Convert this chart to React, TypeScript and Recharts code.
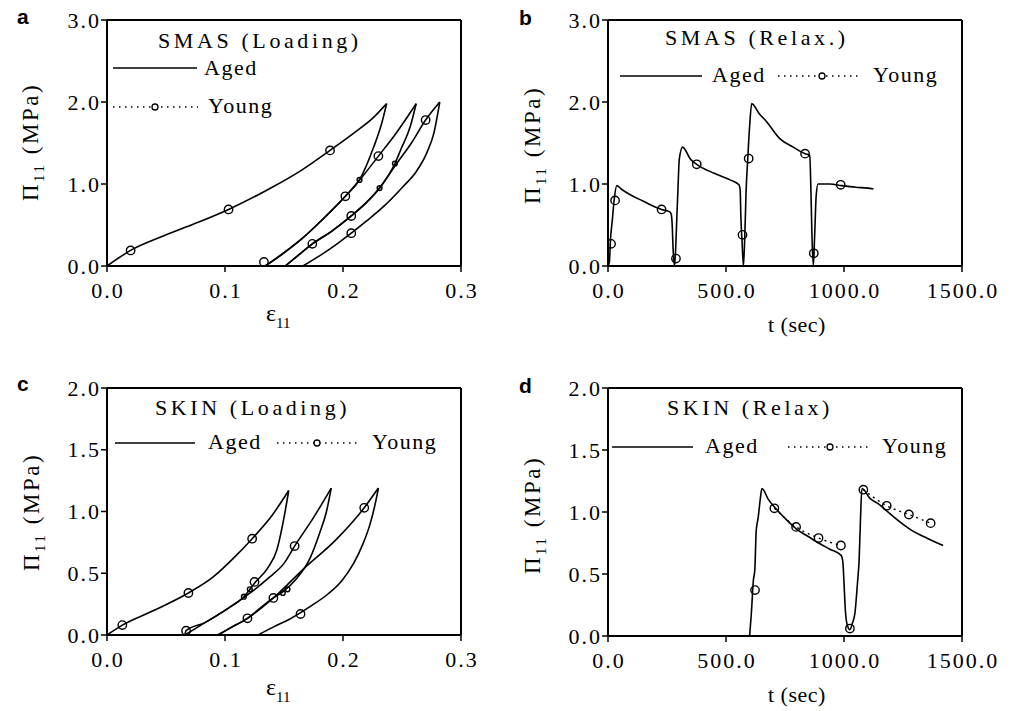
import React from 'react';
import { ComposedChart, Line, Scatter, XAxis, YAxis } from 'recharts';

type Pt = [number, number];

// ---- a: SMAS loading (strain, MPa) ----
const smasLoad1: Pt[] = [[0, 0], [0.02, 0.19], [0.045, 0.35], [0.075, 0.52], [0.103, 0.69], [0.14, 0.96], [0.165, 1.17], [0.189, 1.41], [0.21, 1.63], [0.225, 1.8], [0.237, 1.98]];
const smasUnload1: Pt[] = [[0.237, 1.98], [0.233, 1.75], [0.226, 1.45], [0.214, 1.05], [0.202, 0.85], [0.185, 0.6], [0.165, 0.33], [0.148, 0.14], [0.134, 0]];
const smasLoad2: Pt[] = [[0.134, 0], [0.148, 0.14], [0.165, 0.33], [0.185, 0.6], [0.202, 0.85], [0.217, 1.1], [0.23, 1.34], [0.245, 1.62], [0.262, 1.98]];
const smasUnload2: Pt[] = [[0.262, 1.98], [0.257, 1.7], [0.249, 1.42], [0.244, 1.25], [0.231, 0.95], [0.219, 0.76], [0.207, 0.61], [0.19, 0.42], [0.174, 0.27], [0.162, 0.13], [0.151, 0]];
const smasLoad3: Pt[] = [[0.151, 0], [0.162, 0.13], [0.174, 0.27], [0.19, 0.42], [0.207, 0.61], [0.231, 0.95], [0.244, 1.22], [0.258, 1.5], [0.27, 1.78], [0.282, 2.0]];
const smasUnload3: Pt[] = [[0.282, 2.0], [0.277, 1.62], [0.271, 1.38], [0.262, 1.15], [0.251, 0.97], [0.234, 0.72], [0.22, 0.55], [0.207, 0.4], [0.195, 0.27], [0.183, 0.15], [0.166, 0]];
const smasYoung: Pt[] = [[0.02, 0.19], [0.103, 0.69], [0.189, 1.41], [0.133, 0.05], [0.202, 0.85], [0.23, 1.34], [0.174, 0.27], [0.207, 0.61], [0.27, 1.78], [0.207, 0.4]];
const smasYoungSmall: Pt[] = [[0.214, 1.05], [0.244, 1.25], [0.231, 0.95]];

// ---- b: SMAS relaxation (sec, MPa) ----
const smasRelaxAged: Pt[] = [[0, 0], [6, 0.05], [10, 0.3], [18, 0.55], [26, 0.8], [37, 0.98], [60, 0.93], [100, 0.86], [150, 0.79], [200, 0.72], [227, 0.69], [262, 0.66], [268, 0.63], [272, 0.5], [276, 0.2], [282, 0], [288, 0.3], [292, 0.62], [296, 0.9], [302, 1.3], [316, 1.45], [350, 1.3], [376, 1.24], [450, 1.13], [517, 1.05], [555, 0.99], [560, 0.93], [563, 0.6], [568, 0.3], [574, 0], [580, 0.4], [585, 0.9], [592, 1.3], [600, 1.7], [609, 1.98], [640, 1.86], [672, 1.76], [729, 1.55], [785, 1.45], [835, 1.37], [855, 1.35], [860, 0.9], [864, 0.4], [870, 0], [876, 0.4], [882, 0.85], [890, 1.0], [940, 1.0], [990, 0.98], [1050, 0.96], [1100, 0.95], [1125, 0.94]];
const smasRelaxYoung: Pt[] = [[13, 0.27], [30, 0.8], [227, 0.69], [288, 0.09], [376, 1.24], [570, 0.38], [596, 1.31], [835, 1.37], [872, 0.155], [986, 0.99]];

// ---- c: SKIN loading ----
const skinLoad1: Pt[] = [[0, 0], [0.013, 0.08], [0.04, 0.2], [0.069, 0.34], [0.09, 0.47], [0.107, 0.62], [0.123, 0.78], [0.14, 0.97], [0.154, 1.17]];
const skinUnload1: Pt[] = [[0.154, 1.17], [0.15, 0.95], [0.144, 0.69], [0.136, 0.54], [0.125, 0.42], [0.117, 0.32], [0.1, 0.2], [0.083, 0.1], [0.066, 0]];
const skinLoad2: Pt[] = [[0.066, 0], [0.067, 0.035], [0.083, 0.1], [0.1, 0.2], [0.117, 0.31], [0.138, 0.47], [0.15, 0.58], [0.159, 0.72], [0.175, 0.95], [0.19, 1.19]];
const skinUnload2: Pt[] = [[0.19, 1.19], [0.186, 1.0], [0.18, 0.82], [0.172, 0.62], [0.16, 0.45], [0.149, 0.35], [0.141, 0.3], [0.13, 0.22], [0.119, 0.135], [0.105, 0.06], [0.094, 0]];
const skinLoad3: Pt[] = [[0.094, 0], [0.105, 0.06], [0.119, 0.135], [0.141, 0.3], [0.166, 0.53], [0.195, 0.78], [0.218, 1.03], [0.23, 1.19]];
const skinUnload3: Pt[] = [[0.23, 1.19], [0.227, 1.05], [0.223, 0.9], [0.217, 0.74], [0.209, 0.58], [0.199, 0.44], [0.187, 0.33], [0.172, 0.23], [0.155, 0.13], [0.14, 0.06], [0.128, 0]];
const skinYoung: Pt[] = [[0.013, 0.08], [0.069, 0.34], [0.123, 0.78], [0.067, 0.035], [0.125, 0.43], [0.159, 0.72], [0.119, 0.135], [0.141, 0.3], [0.218, 1.03], [0.164, 0.17]];
const skinYoungSmall: Pt[] = [[0.116, 0.31], [0.121, 0.37], [0.149, 0.34], [0.153, 0.37]];

// ---- d: SKIN relaxation ----
const skinRelaxAged: Pt[] = [[600, 0], [608, 0.2], [616, 0.45], [622, 0.53], [628, 0.85], [636, 0.95], [645, 1.1], [652, 1.19], [680, 1.1], [715, 1.02], [760, 0.93], [800, 0.86], [850, 0.8], [892, 0.75], [940, 0.7], [988, 0.65], [995, 0.6], [1000, 0.43], [1006, 0.2], [1015, 0.08], [1025, 0.05], [1035, 0.1], [1046, 0.18], [1058, 0.45], [1064, 0.61], [1070, 0.95], [1076, 1.19], [1110, 1.11], [1150, 1.06], [1180, 1.01], [1230, 0.93], [1280, 0.86], [1350, 0.79], [1420, 0.73]];
const skinRelaxYoung: Pt[] = [[623, 0.37], [705, 1.03], [797, 0.88], [892, 0.79], [987, 0.73], [1025, 0.06], [1082, 1.18], [1181, 1.05], [1275, 0.98], [1367, 0.91]];
const skinRelaxYoungHold1: Pt[] = [[705, 1.03], [797, 0.88], [892, 0.79], [987, 0.73]];
const skinRelaxYoungHold2: Pt[] = [[1082, 1.18], [1181, 1.05], [1275, 0.98], [1367, 0.91]];

// tick labels
const strainTicks = [0, 0.1, 0.2, 0.3];
const timeTicks = [0, 500, 1000, 1500];
const smasStressTicks = [0, 1, 2, 3];
const skinStressTicks = [0, 0.5, 1, 1.5, 2];

const steps = (max: number, n: number) => Array.from({ length: n + 1 }, (_, i) => (max * i) / n);

const SERIF = 'Liberation Serif, DejaVu Serif, serif';
const toXY = (a: Pt[]) => a.map(([x, y]) => ({ x, y }));
const axisStyle = { stroke: '#000', strokeWidth: 2 };
const tickStyle = { stroke: '#000', strokeWidth: 1.5 };

const YTick = (props: any) => (
  <text x={props.x + 2} y={props.y} dy="0.35em" textAnchor="end" fontFamily={SERIF} fontSize={22} letterSpacing={2} fill="#000">
    {Number(props.payload.value).toFixed(1)}
  </text>
);
const XTick = (props: any) => (
  <text x={props.x + 1} y={props.y} dy="0.71em" textAnchor="middle" fontFamily={SERIF} fontSize={22} letterSpacing={2} fill="#000">
    {Number(props.payload.value).toFixed(1)}
  </text>
);

const Ring = (r: number) => (p: any) => <circle cx={p.cx} cy={p.cy} r={r} fill="none" stroke="#000" strokeWidth={1.4} />;

interface PanelProps {
  left: number; top: number; w: number; h: number;
  x0: number; x1: number; y0: number; y1: number;
  xDomain: [number, number]; xTicks: number[];
  yDomain: [number, number]; yTicks: number[];
  topTicks: number[]; topOut: boolean; rightTicks: number[];
  aged: Pt[][]; youngLines?: Pt[][]; young: Pt[]; youngSmall?: Pt[];
}

function Panel(p: PanelProps) {
  const leftW = p.x0 - p.left;
  const rightW = p.left + p.w - p.x1;
  const topH = p.y0 - p.top;
  const bottomH = p.top + p.h - p.y1;
  return (
    <div style={{ position: 'absolute', left: p.left, top: p.top }}>
      <ComposedChart width={p.w} height={p.h} margin={{ top: p.topOut ? 0 : topH, right: rightW, bottom: 0, left: 0 }}>
        <XAxis dataKey="x" type="number" domain={p.xDomain} ticks={p.xTicks} allowDataOverflow interval={0}
          height={bottomH} tickSize={6} tickMargin={10} axisLine={axisStyle} tickLine={tickStyle} tick={<XTick />} />
        <XAxis xAxisId="top" orientation="top" dataKey="x" type="number" domain={p.xDomain} ticks={p.topTicks} allowDataOverflow interval={0}
          height={topH} mirror={!p.topOut} tickSize={p.topOut ? 5 : 3} axisLine={axisStyle} tickLine={tickStyle} tick={false} />
        <YAxis type="number" domain={p.yDomain} ticks={p.yTicks} allowDataOverflow interval={0}
          width={leftW} tickSize={6} tickMargin={2} axisLine={axisStyle} tickLine={tickStyle} tick={<YTick />} />
        <YAxis yAxisId="right" orientation="right" type="number" domain={p.yDomain} ticks={p.rightTicks} allowDataOverflow interval={0}
          width={rightW} mirror tickSize={5} axisLine={axisStyle} tickLine={tickStyle} tick={false} />
        {p.aged.map((seg, i) => (
          <Line key={'a' + i} data={toXY(seg)} dataKey="y" type="monotone" stroke="#000" strokeWidth={1.6} dot={false} isAnimationActive={false} />
        ))}
        {(p.youngLines || []).map((seg, i) => (
          <Line key={'y' + i} data={toXY(seg)} dataKey="y" type="monotone" stroke="#000" strokeWidth={1.4} strokeDasharray="2 4" dot={false} isAnimationActive={false} />
        ))}
        <Scatter data={toXY(p.young)} dataKey="y" shape={Ring(4.2)} isAnimationActive={false} />
        {p.youngSmall && <Scatter data={toXY(p.youngSmall)} dataKey="y" shape={Ring(2.4)} isAnimationActive={false} />}
      </ComposedChart>
    </div>
  );
}

const LegendRow = ({ x, y, dx }: { x: number; y: number; dx: number[] }) => (
  // dx: [lineEnd, agedText, dotsStart, dotsEnd, circleX, youngText]
  <g>
    <line x1={x} y1={y} x2={dx[0]} y2={y} stroke="#000" strokeWidth={1.6} />
    <text x={dx[1]} y={y + 6} fontFamily={SERIF} fontSize={22} letterSpacing={1.5}>Aged</text>
    <line x1={dx[2]} y1={y} x2={dx[3]} y2={y} stroke="#000" strokeWidth={1.4} strokeDasharray="1.5 4.5" />
    <circle cx={dx[4]} cy={y} r={3} fill="#fff" stroke="#000" strokeWidth={1.3} />
    <text x={dx[5]} y={y + 6} fontFamily={SERIF} fontSize={22} letterSpacing={1.5}>Young</text>
  </g>
);

const YTitle = ({ x, y }: { x: number; y: number }) => (
  <text transform={`translate(${x},${y}) rotate(-90)`} textAnchor="middle" fontFamily={SERIF} fontSize={23} letterSpacing={2.5}>
    Π<tspan fontSize={15} dy={6}>11</tspan><tspan dy={-6}> (MPa)</tspan>
  </text>
);
const StrainTitle = ({ x, y }: { x: number; y: number }) => (
  <text x={x} y={y} fontFamily={SERIF} fontSize={24}>
    ε<tspan fontSize={15} dy={7}>11</tspan>
  </text>
);
const TimeTitle = ({ x, y }: { x: number; y: number }) => (
  <text x={x} y={y} fontFamily={SERIF} fontSize={22} letterSpacing={0.5}>t (sec)</text>
);
const Tag = ({ x, y, s }: { x: number; y: number; s: string }) => (
  <text x={x} y={y} fontFamily="Liberation Sans, Arial, sans-serif" fontWeight="bold" fontSize={21}>{s}</text>
);
const Title = ({ x, y, s }: { x: number; y: number; s: string }) => (
  <text x={x} y={y} fontFamily={SERIF} fontSize={22} letterSpacing={3.6}>{s}</text>
);

export default function App() {
  return (
    <div style={{ position: 'absolute', left: 0, top: 0, width: 1013, height: 711, background: '#fff' }}>
      <Panel left={0} top={0} w={507} h={340} x0={107} x1={461} y0={20} y1={266}
        xDomain={[0, 0.3]} xTicks={strainTicks} yDomain={[0, 3]} yTicks={smasStressTicks}
        topTicks={steps(0.3, 20)} topOut={false} rightTicks={[1, 2]}
        aged={[smasLoad1, smasUnload1, smasLoad2, smasUnload2, smasLoad3, smasUnload3]}
        young={smasYoung} youngSmall={smasYoungSmall} />
      <Panel left={507} top={0} w={506} h={340} x0={608} x1={962} y0={20} y1={266}
        xDomain={[0, 1500]} xTicks={timeTicks} yDomain={[0, 3]} yTicks={smasStressTicks}
        topTicks={steps(1500, 20)} topOut={false} rightTicks={steps(3, 15)}
        aged={[smasRelaxAged]} young={smasRelaxYoung} />
      <Panel left={0} top={340} w={507} h={371} x0={107} x1={461} y0={388} y1={635}
        xDomain={[0, 0.3]} xTicks={strainTicks} yDomain={[0, 2]} yTicks={skinStressTicks}
        topTicks={[0.1, 0.2]} topOut={true} rightTicks={[0.5, 1, 1.5]}
        aged={[skinLoad1, skinUnload1, skinLoad2, skinUnload2, skinLoad3, skinUnload3]}
        young={skinYoung} youngSmall={skinYoungSmall} />
      <Panel left={507} top={340} w={506} h={371} x0={608} x1={962} y0={388} y1={636}
        xDomain={[0, 1500]} xTicks={timeTicks} yDomain={[0, 2]} yTicks={skinStressTicks}
        topTicks={[500, 1000]} topOut={true} rightTicks={steps(2, 12)}
        aged={[skinRelaxAged]} youngLines={[skinRelaxYoungHold1, skinRelaxYoungHold2]} young={skinRelaxYoung} />

      <svg width={1013} height={711} style={{ position: 'absolute', left: 0, top: 0, pointerEvents: 'none' }}>
        <Tag x={17} y={24} s="a" />
        <Tag x={519} y={25} s="b" />
        <Tag x={17} y={391} s="c" />
        <Tag x={519} y={393} s="d" />

        <Title x={158} y={48} s="SMAS (Loading)" />
        <Title x={665} y={45} s="SMAS (Relax.)" />
        <Title x={155} y={415} s="SKIN (Loading)" />
        <Title x={667} y={415} s="SKIN (Relax)" />

        {/* a legend is stacked in two rows */}
        <line x1={113} y1={68} x2={197} y2={68} stroke="#000" strokeWidth={1.6} />
        <text x={204} y={75} fontFamily={SERIF} fontSize={22} letterSpacing={1.5}>Aged</text>
        <line x1={113} y1={107} x2={198} y2={107} stroke="#000" strokeWidth={1.4} strokeDasharray="1.5 4.5" />
        <circle cx={155} cy={107} r={3} fill="#fff" stroke="#000" strokeWidth={1.3} />
        <text x={208} y={113} fontFamily={SERIF} fontSize={22} letterSpacing={1.5}>Young</text>

        <LegendRow x={620} y={76} dx={[702, 712, 778, 858, 822, 873]} />
        <LegendRow x={115} y={443} dx={[195, 208, 277, 360, 317, 372]} />
        <LegendRow x={612} y={447} dx={[693, 705, 788, 868, 830, 882]} />

        <YTitle x={38} y={142} />
        <YTitle x={540} y={145} />
        <YTitle x={39} y={512} />
        <YTitle x={540} y={515} />

        <StrainTitle x={266} y={321} />
        <StrainTitle x={266} y={695} />
        <TimeTitle x={768} y={332} />
        <TimeTitle x={768} y={702} />
      </svg>
    </div>
  );
}
